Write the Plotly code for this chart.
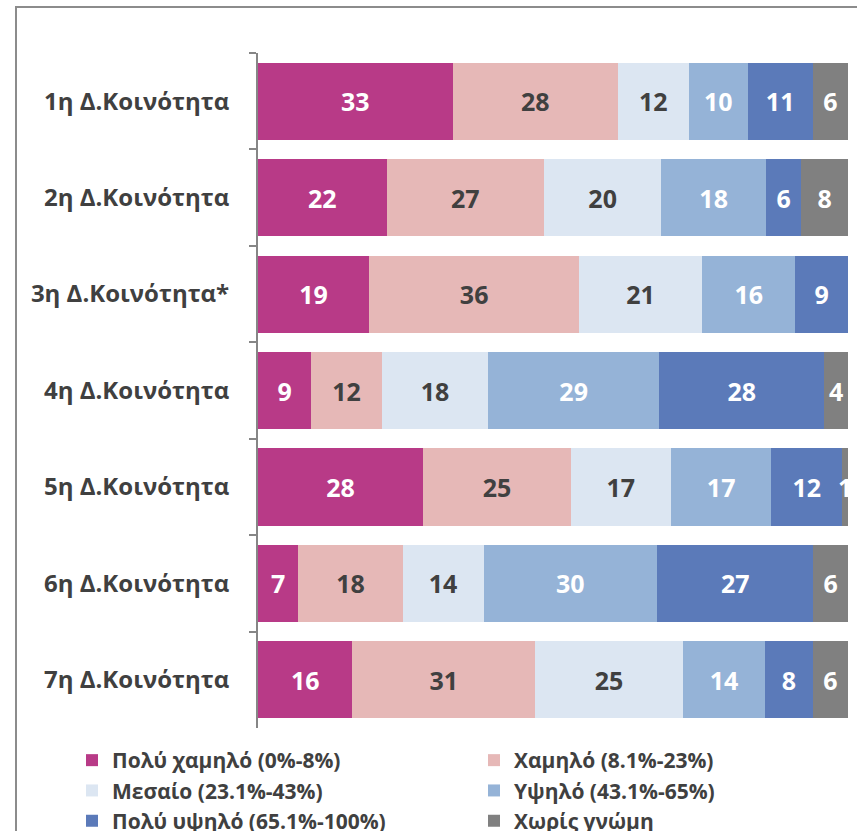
import plotly.graph_objects as go

# Community districts (top to bottom)
categories = [
    "1η Δ.Κοινότητα",
    "2η Δ.Κοινότητα",
    "3η Δ.Κοινότητα*",
    "4η Δ.Κοινότητα",
    "5η Δ.Κοινότητα",
    "6η Δ.Κοινότητα",
    "7η Δ.Κοινότητα",
]

# Share of responses per level (%), one list per level
very_low = [33, 22, 19, 9, 28, 7, 16]
low = [28, 27, 36, 12, 25, 18, 31]
medium = [12, 20, 21, 18, 17, 14, 25]
high = [10, 18, 16, 29, 17, 30, 14]
very_high = [11, 6, 9, 28, 12, 27, 8]
no_opinion = [6, 8, 0, 4, 1, 6, 6]

series_names = [
    "Πολύ χαμηλό (0%-8%)",
    "Χαμηλό (8.1%-23%)",
    "Μεσαίο (23.1%-43%)",
    "Υψηλό (43.1%-65%)",
    "Πολύ υψηλό (65.1%-100%)",
    "Χωρίς γνώμη",
]
series_values = [very_low, low, medium, high, very_high, no_opinion]
colors = ["#B83A87", "#E6B8B7", "#DCE6F2", "#95B3D7", "#5B7AB9", "#808080"]
text_colors = ["white", "#404040", "#404040", "white", "white", "white"]

FONT = "'Open Sans', 'Noto Sans', sans-serif"

fig = go.Figure()
for name, vals, col, tcol in zip(series_names, series_values, colors, text_colors):
    fig.add_trace(
        go.Bar(
            y=categories,
            x=vals,
            name=name,
            orientation="h",
            marker=dict(color=col, line=dict(width=0)),
            text=[str(v) if v else "" for v in vals],
            textposition="inside",
            insidetextanchor="middle",
            constraintext="none",
            textangle=0,
            insidetextfont=dict(color=tcol, size=25, family=FONT, weight=700),
            hoverinfo="skip",
        )
    )

W, H = 857, 831
ML, MR, MT, MB = 258, 9, 53, 103
pw = W - ML - MR
ph = H - MT - MB

# Outer chart frame (extends past the visible canvas on right/bottom)
fx0 = (16 - ML) / pw
fy1 = (H - MB - 7) / ph

fig.update_layout(
    width=W,
    height=H,
    margin=dict(l=ML, r=MR, t=MT, b=MB, autoexpand=False),
    barmode="stack",
    barnorm="percent",
    bargap=0.2,
    paper_bgcolor="white",
    plot_bgcolor="white",
    font=dict(family=FONT, color="#404040"),
    showlegend=True,
    legend=dict(
        orientation="h",
        x=(72 - ML) / pw,
        xanchor="left",
        y=(H - MB - 740) / ph,
        yanchor="top",
        traceorder="normal",
        entrywidth=357,
        itemwidth=30,
        font=dict(size=21, family=FONT, color="#404040", weight=700),
        bgcolor="rgba(0,0,0,0)",
    ),
    xaxis=dict(
        range=[0, 100],
        showticklabels=False,
        showgrid=False,
        zeroline=False,
        showline=False,
        ticks="",
        fixedrange=True,
    ),
    yaxis=dict(
        autorange="reversed",
        showline=True,
        linecolor="#868686",
        linewidth=2,
        ticks="outside",
        tickson="boundaries",
        ticklen=7,
        tickwidth=2,
        tickcolor="#868686",
        ticklabelstandoff=22,
        tickfont=dict(size=24, family=FONT, color="#404040", weight=700),
        showgrid=False,
        zeroline=False,
    ),
    shapes=[
        dict(
            type="rect",
            xref="paper",
            yref="paper",
            x0=fx0,
            x1=1.2,
            y0=-0.3,
            y1=fy1,
            line=dict(color="#8C8C8C", width=2),
            fillcolor="rgba(0,0,0,0)",
            layer="below",
        )
    ],
)

fig.write_html("out.html")
